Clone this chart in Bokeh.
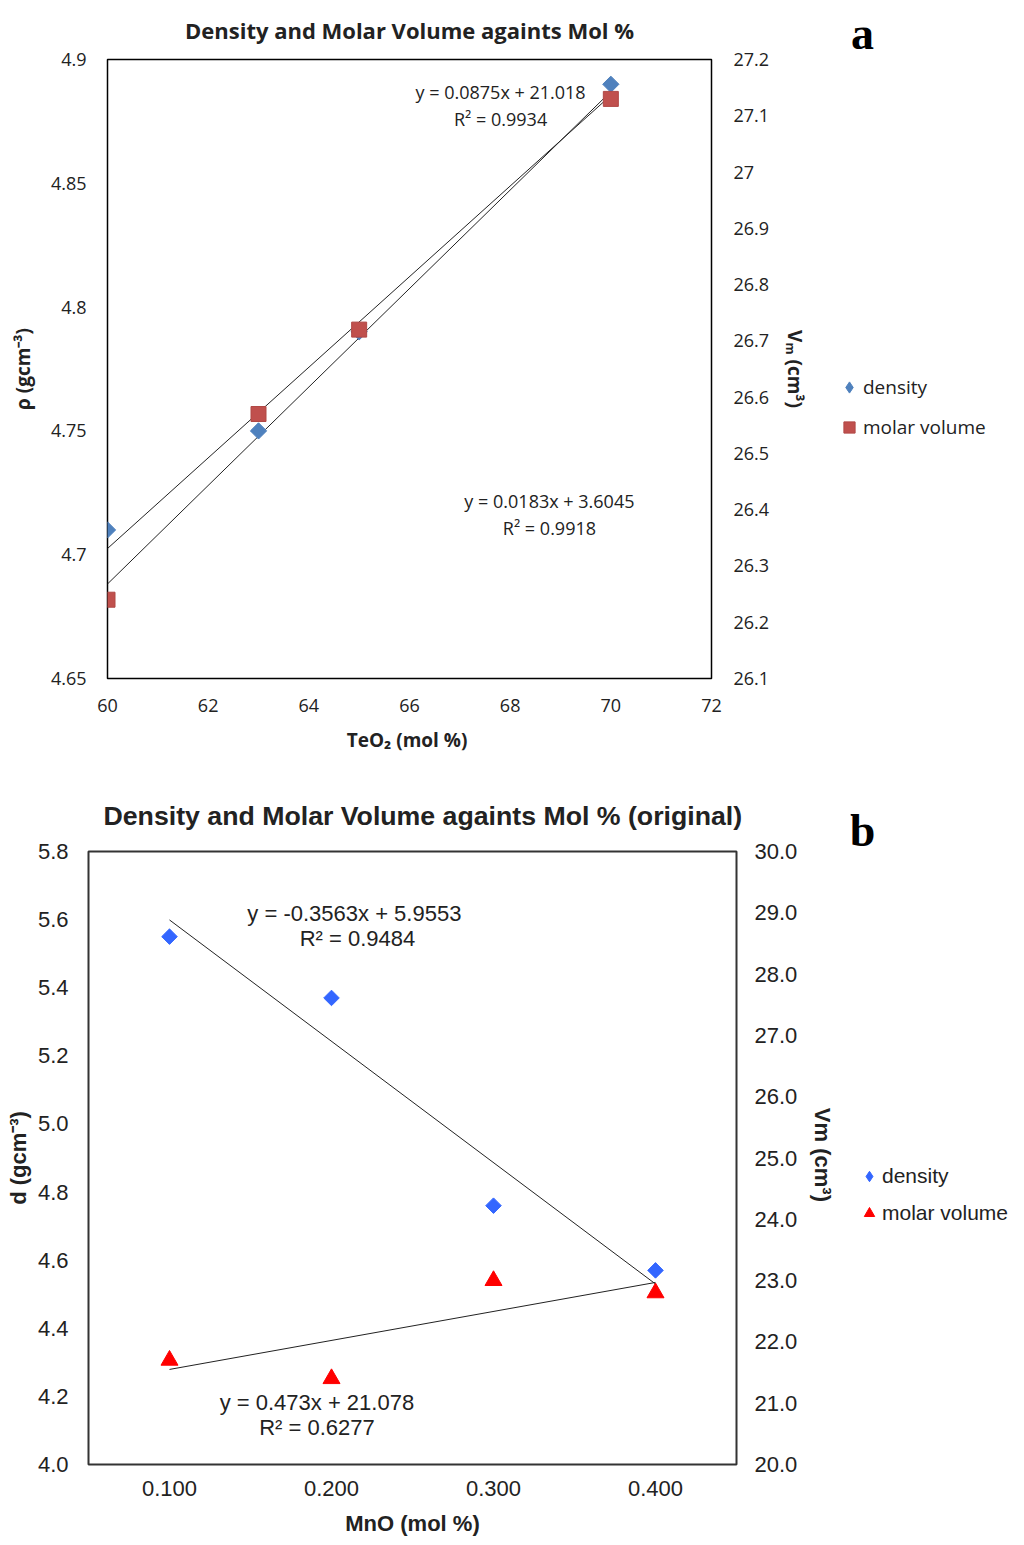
import numpy as np
from bokeh.plotting import figure
from bokeh.models import (Range1d, LinearAxis, FixedTicker, NumeralTickFormatter,
                          Legend, LegendItem, Label, Title, Column, Row)
from bokeh.embed import file_html
from bokeh.resources import INLINE

# ---------------- data: chart a ----------------
teo2_mol = [60, 63, 65, 70]
density_a = [4.71, 4.75, 4.79, 4.89]
molar_volume_a = [26.24, 26.57, 26.72, 27.13]
fit_density_a = [0.0183, 3.6045, 0.9918]   # slope, intercept, R2
fit_molar_a = [0.0875, 21.018, 0.9934]
xticks_a = [60, 62, 64, 66, 68, 70, 72]
yticks_left_a = [4.65, 4.7, 4.75, 4.8, 4.85, 4.9]
yticks_right_a = [26.1, 26.2, 26.3, 26.4, 26.5, 26.6, 26.7, 26.8, 26.9, 27.0, 27.1, 27.2]

# ---------------- data: chart b ----------------
mno_mol = [0.1, 0.2, 0.3, 0.4]
density_b = [5.55, 5.37, 4.76, 4.57]
molar_volume_b = [21.7, 21.4, 23.0, 22.8]
fit_density_b = [-0.3563, 5.9553, 0.9484]  # fitted against point index 1..n
fit_molar_b = [0.473, 21.078, 0.6277]
xticks_b = [0.1, 0.2, 0.3, 0.4]
yticks_left_b = [4.0, 4.2, 4.4, 4.6, 4.8, 5.0, 5.2, 5.4, 5.6, 5.8]
yticks_right_b = [20.0, 21.0, 22.0, 23.0, 24.0, 25.0, 26.0, 27.0, 28.0, 29.0, 30.0]


def style_axis(ax, font, size, label_size, standoff, label_standoff):
    ax.major_tick_line_color = None
    ax.minor_tick_line_color = None
    ax.major_tick_out = 0
    ax.major_tick_in = 0
    ax.minor_tick_out = 0
    ax.minor_tick_in = 0
    ax.axis_line_color = None
    ax.major_label_text_font = font
    ax.major_label_text_font_size = size
    ax.major_label_text_color = "#222222"
    ax.major_label_standoff = standoff
    ax.axis_label_text_font = font
    ax.axis_label_text_font_size = label_size
    ax.axis_label_text_font_style = "bold"
    ax.axis_label_text_color = "#222222"
    ax.axis_label_standoff = label_standoff


def side_figure(w, h):
    # companion figure that holds the legend and the panel letter
    f = figure(width=w, height=h, output_backend="svg", toolbar_location=None,
               x_range=Range1d(0, w), y_range=Range1d(0, h),
               x_axis_type=None, y_axis_type=None,
               min_border_left=0, min_border_right=0, min_border_top=0, min_border_bottom=0)
    f.extra_y_ranges = {"offscreen": Range1d(-2, -1)}   # keys' glyphs fall outside the frame
    f.grid.visible = False
    f.outline_line_color = None
    return f


# ================= chart a =================
FA = "Open Sans"
HA = 778
pa = figure(width=820, height=HA, output_backend="svg", toolbar_location=None,
            x_range=Range1d(60, 72), y_range=Range1d(4.65, 4.9),
            min_border_left=107, min_border_right=109, min_border_top=59, min_border_bottom=100)
pa.title = Title(text="Density and Molar Volume againts Mol %", align="center",
                 text_font=FA, text_font_size="22px", text_font_style="bold",
                 text_color="#222222", standoff=26, vertical_align="top")
pa.extra_y_ranges = {"vm": Range1d(26.1, 27.2)}
pa.grid.visible = False
pa.outline_line_color = "black"
pa.outline_line_width = 1.5

pa.xaxis.ticker = FixedTicker(ticks=xticks_a)
pa.xaxis.axis_label = "TeO₂  (mol %)"
pa.yaxis.ticker = FixedTicker(ticks=yticks_left_a)
pa.yaxis.formatter = NumeralTickFormatter(format="0.[00]")
pa.yaxis.axis_label = "ρ (gcm⁻³)"
ra = LinearAxis(y_range_name="vm", ticker=FixedTicker(ticks=yticks_right_a),
                formatter=NumeralTickFormatter(format="0.[0]"), axis_label="Vₘ (cm³)")
pa.add_layout(ra, "right")
style_axis(pa.xaxis[0], FA, "18px", "19px", 20, 12)
style_axis(pa.yaxis[0], FA, "18px", "19px", 21, 12)
style_axis(ra, FA, "18px", "19px", 22, 10)

xa = np.array([min(teo2_mol), max(teo2_mol)], dtype=float)
pa.line(xa, fit_density_a[0] * xa + fit_density_a[1], line_color="#222222", line_width=1)
pa.line(xa, fit_molar_a[0] * xa + fit_molar_a[1], line_color="#222222", line_width=1,
        y_range_name="vm")
pa.scatter(teo2_mol, density_a, marker="square", angle=np.pi / 4, size=11.5,
           fill_color="#4F81BD", line_color="#4F81BD")
pa.scatter(teo2_mol, molar_volume_a, marker="square", size=15,
           fill_color="#C0504D", line_color="#B04845", y_range_name="vm")

for txt, x, y in [(f"y = {fit_molar_a[0]}x + {fit_molar_a[1]}", 67.81, 4.887),
                  (f"R² = {fit_molar_a[2]}", 67.81, 4.876),
                  (f"y = {fit_density_a[0]}x + {fit_density_a[1]}", 68.78, 4.7215),
                  (f"R² = {fit_density_a[2]}", 68.78, 4.7106)]:
    pa.add_layout(Label(x=x, y=y, text=txt, text_align="center", text_baseline="middle",
                        text_font=FA, text_font_size="18px", text_color="#222222"))

# legend + panel letter for chart a
la = side_figure(1016 - 820, HA)
k_da = la.scatter(teo2_mol, density_a, y_range_name="offscreen", marker="diamond",
                  fill_color="#4F81BD", line_color="#4F81BD")
k_ma = la.scatter(teo2_mol, molar_volume_a, y_range_name="offscreen", marker="square",
                  fill_color="#C0504D", line_color="#B04845")
la.add_layout(Legend(items=[LegendItem(label="density", renderers=[k_da]),
                            LegendItem(label="molar volume", renderers=[k_ma])],
                     location=(15, 336), padding=0, margin=0, spacing=10,
                     label_height=30, glyph_height=30, glyph_width=28, label_standoff=0,
                     label_text_font=FA, label_text_font_size="19px",
                     label_text_color="#222222", border_line_color=None,
                     background_fill_alpha=0))
la.add_layout(Label(x=42, y=HA - 33, text="a", text_align="center", text_baseline="middle",
                    text_font="Liberation Serif", text_font_size="46px",
                    text_font_style="bold", text_color="black"))

# ================= chart b =================
FB = "Liberation Sans"
HB = 767
pb = figure(width=850, height=HB, output_backend="svg", toolbar_location=None,
            x_range=Range1d(0.05, 0.45), y_range=Range1d(4.0, 5.8),
            min_border_left=88, min_border_right=114, min_border_top=73, min_border_bottom=81)
pb.title = Title(text="Density and Molar Volume againts Mol % (original)", align="left",
                 text_font=FB, text_font_size="26.7px", text_font_style="bold",
                 text_color="#222222", standoff=37, vertical_align="top", offset=15)
pb.extra_y_ranges = {"vm": Range1d(20.0, 30.0)}
pb.grid.visible = False
pb.outline_line_color = "#333333"
pb.outline_line_width = 2

pb.xaxis.ticker = FixedTicker(ticks=xticks_b)
pb.xaxis.formatter = NumeralTickFormatter(format="0.000")
pb.xaxis.axis_label = "MnO (mol %)"
pb.yaxis.ticker = FixedTicker(ticks=yticks_left_b)
pb.yaxis.formatter = NumeralTickFormatter(format="0.0")
pb.yaxis.axis_label = "d (gcm⁻³)"
rb = LinearAxis(y_range_name="vm", ticker=FixedTicker(ticks=yticks_right_b),
                formatter=NumeralTickFormatter(format="0.0"), axis_label="Vm  (cm³)")
pb.add_layout(rb, "right")
style_axis(pb.xaxis[0], FB, "22px", "22px", 16, 12)
style_axis(pb.yaxis[0], FB, "22px", "22px", 20, 4)
style_axis(rb, FB, "22px", "22px", 18, 10)

idx = np.arange(1, len(mno_mol) + 1, dtype=float)
ends = np.array([idx[0], idx[-1]])
xb = np.array([mno_mol[0], mno_mol[-1]])
pb.line(xb, fit_density_b[0] * ends + fit_density_b[1], line_color="#222222", line_width=1)
pb.line(xb, fit_molar_b[0] * ends + fit_molar_b[1], line_color="#222222", line_width=1,
        y_range_name="vm")
pb.scatter(mno_mol, density_b, marker="square", angle=np.pi / 4, size=11,
           fill_color="#3366FF", line_color="#3366FF")
pb.scatter(mno_mol, molar_volume_b, marker="triangle", size=17,
           fill_color="#FF0000", line_color="#FF0000", y_range_name="vm")

for txt, x, y in [(f"y = {fit_density_b[0]}x  + {fit_density_b[1]}", 0.216, 5.618),
                  (f"R² = {fit_density_b[2]}", 0.216, 5.545),
                  (f"y = {fit_molar_b[0]}x + {fit_molar_b[1]}", 0.191, 4.182),
                  (f"R² = {fit_molar_b[2]}", 0.191, 4.109)]:
    pb.add_layout(Label(x=x, y=y, text=txt, text_align="center", text_baseline="middle",
                        text_font=FB, text_font_size="22px", text_color="#222222"))

lb = side_figure(1016 - 850, HB)
k_db = lb.scatter(mno_mol, density_b, y_range_name="offscreen", marker="diamond",
                  fill_color="#3366FF", line_color="#3366FF")
k_mb = lb.scatter(mno_mol, molar_volume_b, y_range_name="offscreen", marker="triangle",
                  fill_color="#FF0000", line_color="#FF0000")
lb.add_layout(Legend(items=[LegendItem(label="density", renderers=[k_db]),
                            LegendItem(label="molar volume", renderers=[k_mb])],
                     location=(6, 319), padding=0, margin=0, spacing=11,
                     label_height=26, glyph_height=26, glyph_width=26, label_standoff=0,
                     label_text_font=FB, label_text_font_size="21px",
                     label_text_color="#222222", border_line_color=None,
                     background_fill_alpha=0))
lb.add_layout(Label(x=12, y=HB - 52, text="b", text_align="center", text_baseline="middle",
                    text_font="Liberation Serif", text_font_size="46px",
                    text_font_style="bold", text_color="black"))

top = Row(children=[pa, Column(children=[la])])
bottom = Row(children=[pb, Column(children=[lb])])
open("out.html", "w").write(file_html([top, bottom], INLINE))
